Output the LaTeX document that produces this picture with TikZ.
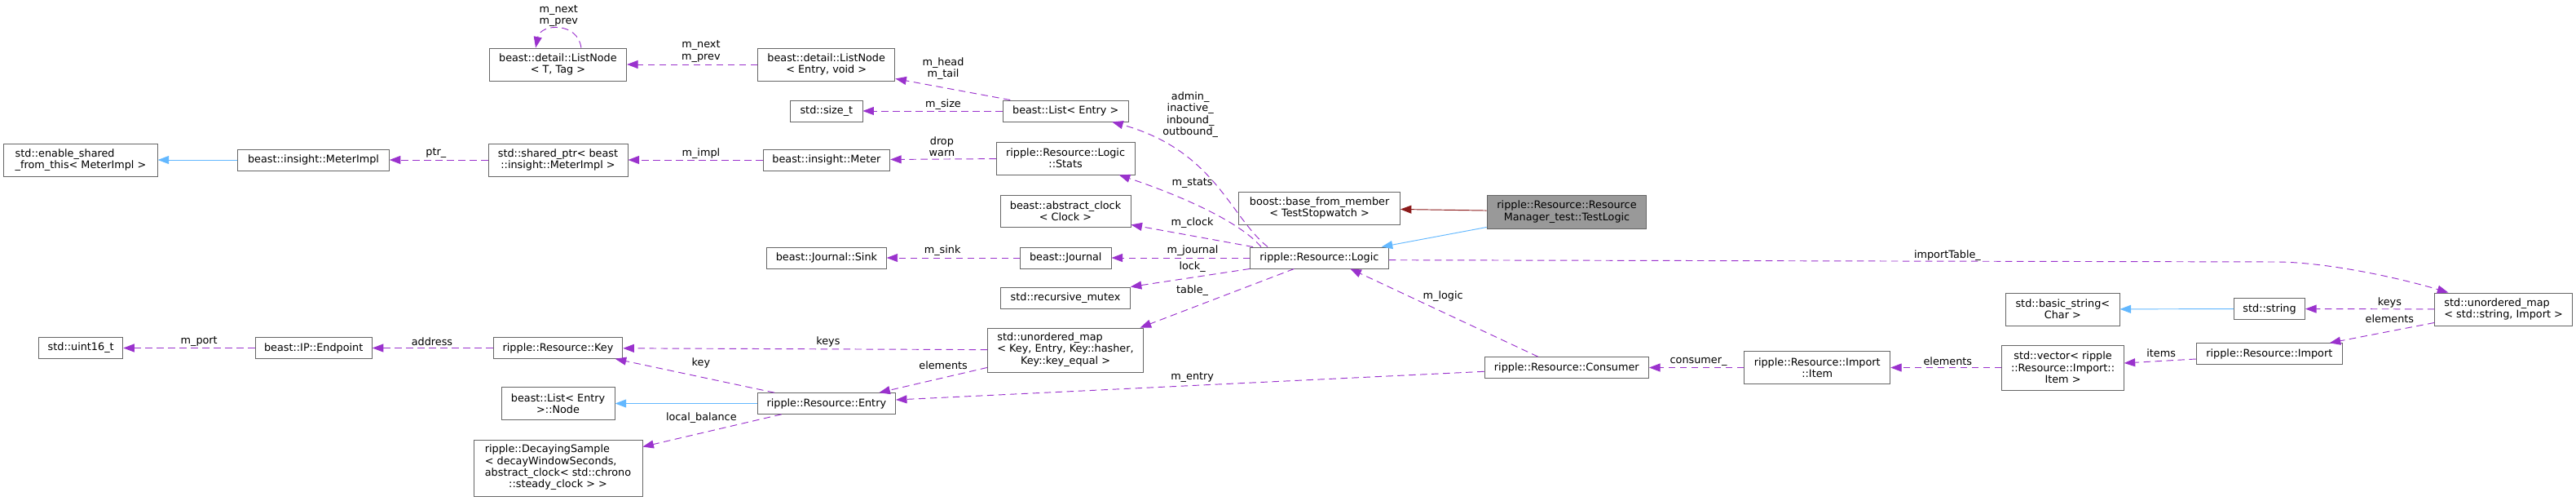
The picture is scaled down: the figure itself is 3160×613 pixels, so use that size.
\documentclass[tikz,border=0pt]{standalone}
\usepackage{fontspec}
\setmainfont{DejaVu Sans}
\usepackage{xcolor}
\usepackage{tikz}
\usetikzlibrary{arrows.meta, positioning}

\definecolor{usecol}{HTML}{9A32CD}
\definecolor{inhcol}{HTML}{63B8FF}
\definecolor{privcol}{HTML}{8B1A1A}
\definecolor{boxline}{HTML}{666666}
\definecolor{mainfill}{HTML}{999999}

\newcommand{\lft}[1]{\multicolumn{1}{@{}l@{}}{#1}}

\tikzset{
    cls/.style={draw=boxline, line width=0.9pt, fill=white, inner sep=0pt, align=center, font=\fontsize{12.8pt}{14.3pt}\selectfont},
    sz/.style 2 args={minimum width=#1pt, minimum height=#2pt},
    lbl/.style={inner sep=0pt, align=center, font=\fontsize{12.8pt}{14.3pt}\selectfont},
    member/.style={draw=usecol, line width=0.95pt, dash pattern=on 8.5pt off 5.5pt, -{Triangle[length=13.5pt,width=10pt]}},
    inherit/.style={draw=inhcol, line width=0.95pt, -{Triangle[length=13.5pt,width=10pt]}},
    privinh/.style={draw=privcol, line width=0.95pt, -{Triangle[length=13.5pt,width=10pt]}}
}

\begin{document}
\begin{tikzpicture}[x=1pt, y=-1pt]
    \useasboundingbox (0,0) rectangle (3160,613);

    % classes
    \node[cls, sz={188.4}{40}, align=left] (esft) at (99,196) {std::enable\_shared\\\_from\_this< MeterImpl >};
    \node[cls, sz={185.6}{26}] (mimpl) at (384.5,196) {beast::insight::MeterImpl};
    \node[cls, sz={171.1}{40}] (sptr) at (684.5,196) {std::shared\_ptr< beast\\::insight::MeterImpl >};
    \node[cls, sz={168.4}{40}] (lnT) at (684.4,79) {beast::detail::ListNode\\< T, Tag >};
    \node[cls, sz={168.4}{40}] (lnE) at (1013.7,79) {beast::detail::ListNode\\< Entry, void >};
    \node[cls, sz={88.1}{26}] (sizet) at (1013.9,136) {std::size\_t};
    \node[cls, sz={155.7}{26}] (meter) at (1013.9,196) {beast::insight::Meter};
    \node[cls, sz={153.6}{26}] (list) at (1307.2,136) {beast::List< Entry >};
    \node[cls, sz={169.8}{40}] (stats) at (1307.1,194) {ripple::Resource::Logic\\::Stats};
    \node[cls, sz={160.1}{39}] (aclock) at (1307,258.5) {beast::abstract\_clock\\< Clock >};
    \node[cls, sz={197.7}{40}] (bfm) at (1618.6,255) {boost::base\_from\_member\\< TestStopwatch >};
    \node[cls, sz={195.7}{41}, fill=mainfill] (tlogic) at (1922,259.5) {ripple::Resource::Resource\\Manager\_test::TestLogic};
    \node[cls, sz={146.7}{26}] (sink) at (1013.9,316) {beast::Journal::Sink};
    \node[cls, sz={111.5}{26}] (journal) at (1307.3,316) {beast::Journal};
    \node[cls, sz={169.8}{26}] (logic) at (1618.4,316) {ripple::Resource::Logic};
    \node[cls, sz={158.7}{26}] (mutex) at (1307,365) {std::recursive\_mutex};
    \node[cls, sz={191.1}{54}] (kmap) at (1307,429) {\begin{tabular}{@{}c@{}}\lft{std::unordered\_map}\\< Key, Entry, Key::hasher,\\Key::key\_equal >\end{tabular}};
    \node[cls, sz={158.7}{25.7}] (key) at (684.5,426.5) {ripple::Resource::Key};
    \node[cls, sz={143.3}{25.7}] (endpoint) at (384.7,426.5) {beast::IP::Endpoint};
    \node[cls, sz={103.3}{25.7}] (uint16) at (99.2,426.5) {std::uint16\_t};
    \node[cls, sz={139.2}{40}] (lnode) at (684.6,494.5) {beast::List< Entry\\>::Node};
    \node[cls, sz={169.4}{25.7}] (entry) at (1013.8,494.5) {ripple::Resource::Entry};
    \node[cls, sz={206.9}{69}] (dsample) at (684.5,573.5) {\begin{tabular}{@{}c@{}}\lft{ripple::DecayingSample}\\\lft{< decayWindowSeconds,}\\abstract\_clock< std::chrono\\::steady\_clock > >\end{tabular}};
    \node[cls, sz={201.5}{25.7}] (consumer) at (1921.8,450.5) {ripple::Resource::Consumer};
    \node[cls, sz={179.1}{40}] (item) at (2229.2,450.5) {ripple::Resource::Import\\::Item};
    \node[cls, sz={149.5}{55}] (vec) at (2530.5,450.5) {std::vector< ripple\\::Resource::Import::\\Item >};
    \node[cls, sz={139.5}{40}] (bstr) at (2530.3,379) {std::basic\_string<\\Char >};
    \node[cls, sz={87.1}{25.5}] (str) at (2784,378.5) {std::string};
    \node[cls, sz={168.6}{40}, align=left] (smap) at (3071.1,379) {std::unordered\_map\\< std::string, Import >};
    \node[cls, sz={178.9}{25.5}] (import) at (2783.8,433.5) {ripple::Resource::Import};

    % inheritance
    \draw[inherit] (mimpl) -- (esft);
    \draw[inherit] (entry) -- (lnode);
    \draw[inherit] (str) -- (bstr);
    \draw[inherit] ([yshift=2pt]tlogic.south west) -- ([xshift=-9pt]logic.north east);
    \draw[privinh] (tlogic) -- (bfm);

    % members
    \draw[member] (sptr) -- (mimpl) node[lbl] at (534.8,188) {ptr\_};
    \draw[member] ([xshift=28.5pt]lnT.north) .. controls +(-4,-32) and +(6,-30) .. ([xshift=-27.3pt]lnT.north) node[lbl] at (685.3,19.5) {m\_next\\m\_prev};
    \draw[member] (lnE) -- (lnT) node[lbl] at (859.9,63) {m\_next\\m\_prev};
    \draw[member] ([xshift=9.3pt]list.north west) -- ([yshift=3pt]lnE.south east) node[lbl] at (1157,84) {m\_head\\m\_tail};
    \draw[member] (list) -- (sizet) node[lbl] at (1157,128) {m\_size};
    \draw[member] (meter) -- (sptr) node[lbl] at (859.9,188) {m\_impl};
    \draw[member] (stats) -- (meter) node[lbl] at (1155.4,179.5) {drop\\warn};
    \draw[member] ([xshift=22pt]logic.north west) .. controls +(-47,-38) and +(126,35) .. ([xshift=-20.3pt]list.south east) node[lbl] at (1460.2,140.5) {admin\_\\inactive\_\\inbound\_\\outbound\_};
    \draw[member] ([xshift=14pt]logic.north west) .. controls +(-30,-35) and +(60,20) .. ([xshift=-19.7pt]stats.south east) node[lbl] at (1462.6,225) {m\_stats};
    \draw[member] ([xshift=4pt]logic.north west) -- ([yshift=3pt]aclock.south east) node[lbl] at (1462.6,273) {m\_clock};
    \draw[member] (journal) -- (sink) node[lbl] at (1156.1,307.5) {m\_sink};
    \draw[member] (logic) -- (journal) node[lbl] at (1463,307.5) {m\_journal};
    \draw[member] (logic.south west) -- (mutex.north east) node[lbl] at (1462.6,327.5) {lock\_};
    \draw[member] ([xshift=54.5pt]logic.south west) -- ([xshift=-4.4pt]kmap.north east) node[lbl] at (1462.6,356.5) {table\_};
    \draw[member] ([yshift=-2.7pt]logic.east) -- ++(1092,2.3) .. controls +(60,1) and +(-64,-19) .. ([xshift=17pt]smap.north west) node[lbl] at (2388.9,313) {importTable\_};
    \draw[member] (endpoint) -- (uint16) node[lbl] at (244.2,418.5) {m\_port};
    \draw[member] (key) -- (endpoint) node[lbl] at (530,418.5) {address};
    \draw[member] (kmap) -- (key) node[lbl] at (1015.9,418.5) {keys};
    \draw[member] ([xshift=21.4pt]entry.north west) -- ([xshift=-9.6pt]key.south east) node[lbl] at (859.9,444.5) {key};
    \draw[member] ([xshift=30pt]entry.south west) -- ([yshift=-9pt]dsample.north east) node[lbl] at (860.3,512.5) {local\_balance};
    \draw[member] ([yshift=6pt]kmap.south west) -- ([xshift=-20.6pt]entry.north east) node[lbl] at (1157.1,447.5) {elements};
    \draw[member] ([yshift=-4.8pt]consumer.west) -- ([yshift=4.5pt]entry.east) node[lbl] at (1462.6,463) {m\_entry};
    \draw[member] ([xshift=66.2pt]consumer.north west) -- ([xshift=38pt]logic.south) node[lbl] at (1770.1,363) {m\_logic};
    \draw[member] (item) -- (consumer) node[lbl] at (2083.5,443) {consumer\_};
    \draw[member] (vec) -- (item) node[lbl] at (2389.3,443) {elements};
    \draw[member] (smap) -- (str) node[lbl] at (2931.4,371) {keys};
    \draw[member] ([yshift=4pt]smap.south west) -- ([xshift=-16pt]import.north east) node[lbl] at (2931.4,391) {elements};
    \draw[member] ([yshift=-6.5pt]import.west) -- ([yshift=5.5pt]vec.east) node[lbl] at (2651.1,433) {items};
\end{tikzpicture}
\end{document}
